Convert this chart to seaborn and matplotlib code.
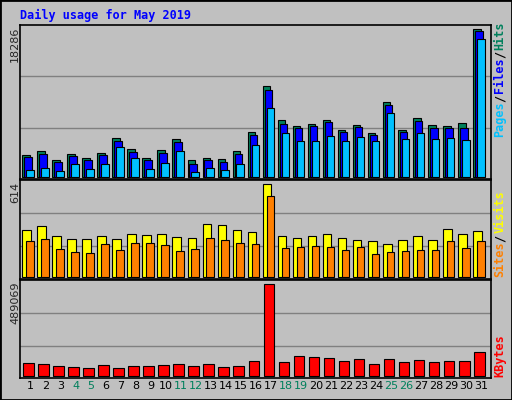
import numpy as np
import matplotlib
matplotlib.use("Agg")
import matplotlib.pyplot as plt
import seaborn as sns

days = list(range(1, 32))
weekend_days = [4, 5, 11, 12, 18, 19, 25, 26]

hits = [2648, 3144, 2027, 2772, 2275, 2896, 4758, 3392, 2275, 3268, 4633, 2027, 2275, 2151, 3144, 5502,
        11211, 6992, 6247, 6495, 6992, 5750, 6371, 5378, 9226, 5750, 7240, 6371, 6247, 6619, 18286]
files = [2400, 2772, 1779, 2524, 2027, 2648, 4385, 3020, 2027, 2896, 4261, 1531, 2027, 1779, 2772, 5130,
         10715, 6495, 5999, 6247, 6743, 5502, 6123, 5130, 8853, 5502, 6868, 5999, 5999, 5999, 18038]
pages = [786, 1034, 662, 1531, 910, 1531, 3641, 2275, 910, 1655, 3144, 538, 1034, 786, 1531, 3889,
         8481, 5378, 4385, 4385, 5006, 4385, 4882, 4385, 7860, 4633, 5378, 4633, 4758, 4509, 17044]
visits = [308, 335, 268, 248, 248, 268, 248, 282, 275, 282, 262, 255, 348, 341, 308, 295,
          614, 268, 255, 268, 282, 255, 242, 235, 215, 242, 268, 242, 315, 282, 302]
sites = [235, 248, 182, 162, 155, 215, 175, 222, 222, 208, 168, 182, 255, 242, 222, 215,
         534, 188, 195, 202, 195, 175, 195, 149, 162, 168, 175, 175, 235, 188, 235]
kbytes = [67830, 62475, 51765, 46410, 41055, 57120, 41055, 51765, 51765, 57120, 62475, 51765, 62475, 46410, 51765, 78540,
          489069, 73185, 105315, 99960, 94605, 78540, 89250, 62475, 89250, 73185, 83895, 73185, 78540, 78540, 126735]

sns.set_style("white")
plt.rcParams['font.family'] = ['DejaVu Sans Mono', 'DejaVu Sans']

BG = "#C0C0C0"
W, H = 512, 400
fig = plt.figure(figsize=(W / 100, H / 100), dpi=100, facecolor=BG)
x = np.array(days)


def make_ax(top, bottom):
    ax = fig.add_axes([20 / W, 1 - bottom / H, 471 / W, (bottom - top) / H])
    ax.set_facecolor(BG)
    ax.set_xlim(0.3, 31.65)
    for s in ax.spines.values():
        s.set_color("black")
        s.set_linewidth(1.2)
    ax.set_xticks([])
    ax.set_yticks([])
    return ax


def panel(ax, top_px, base_px, peak_px, vmax):
    # map peak value to its pixel height
    scale = vmax / (base_px - peak_px)
    ax.set_ylim(-(ax_bottom[ax] - base_px) * scale, vmax + (peak_px - top_px) * scale)
    for f in (0.33, 0.685):
        ax.axhline(vmax * f, color="#808080", lw=1, zorder=0)


ax_bottom = {}
ax1 = make_ax(25, 179); ax_bottom[ax1] = 179
ax2 = make_ax(180, 279); ax_bottom[ax2] = 279
ax3 = make_ax(280, 378); ax_bottom[ax3] = 378

panel(ax1, 25, 176.7, 29.3, max(hits))
panel(ax2, 180, 276.7, 184.3, max(visits))
panel(ax3, 280, 375.7, 284.3, max(kbytes))

kw = dict(align="edge", edgecolor="black", linewidth=0.8)
ax1.bar(x - 0.55, hits, width=0.51, color="#00805C", **kw)
ax1.bar(x - 0.42, files, width=0.51, color="#0000FF", **kw)
ax1.bar(x - 0.29, pages, width=0.51, color="#00C0FF", **kw)
ax2.bar(x - 0.55, visits, width=0.58, color="#FFFF00", **kw)
ax2.bar(x - 0.29, sites, width=0.51, color="#FF8000", **kw)
ax3.bar(x - 0.49, kbytes, width=0.71, color="#FF0000", **kw)

for d in days:
    c = "#00805C" if d in weekend_days else "black"
    ax3.text(d, -0.03, str(d), transform=ax3.get_xaxis_transform(), ha="center", va="top",
             fontsize=8, color=c, family="DejaVu Sans")

fig.text(20 / W, 1 - 15 / H, "Daily usage for May 2019", color="#0000FF", fontsize=8.5,
         fontweight="bold", va="center", ha="left")

for y, s in [(27, "18286"), (182, "614"), (282, "489069")]:
    fig.text(15 / W, 1 - y / H, s, rotation=90, ha="center", va="top", fontsize=8, family="DejaVu Sans")


def side(y_bottom, parts):
    y = y_bottom
    for s, c in parts:
        t = fig.text(500 / W, 1 - y / H, s, rotation=90, ha="center", va="bottom", color=c, fontsize=8.5,
                     fontweight="bold")
        y -= 6.6 * len(s) + 2


side(137, [("Pages", "#00C0FF"), ("/", "black"), ("Files", "#0000FF"), ("/", "black"), ("Hits", "#00805C")])
side(277, [("Sites", "#FF8000"), ("/", "black"), ("Visits", "#FFFF00")])
side(377, [("KBytes", "#FF0000")])

# outer frame
fig.patches.append(plt.Rectangle((0, 0), 1, 1, transform=fig.transFigure, fill=False,
                                 edgecolor="black", linewidth=2))
fig.savefig("out.png", dpi=100, facecolor=BG)
